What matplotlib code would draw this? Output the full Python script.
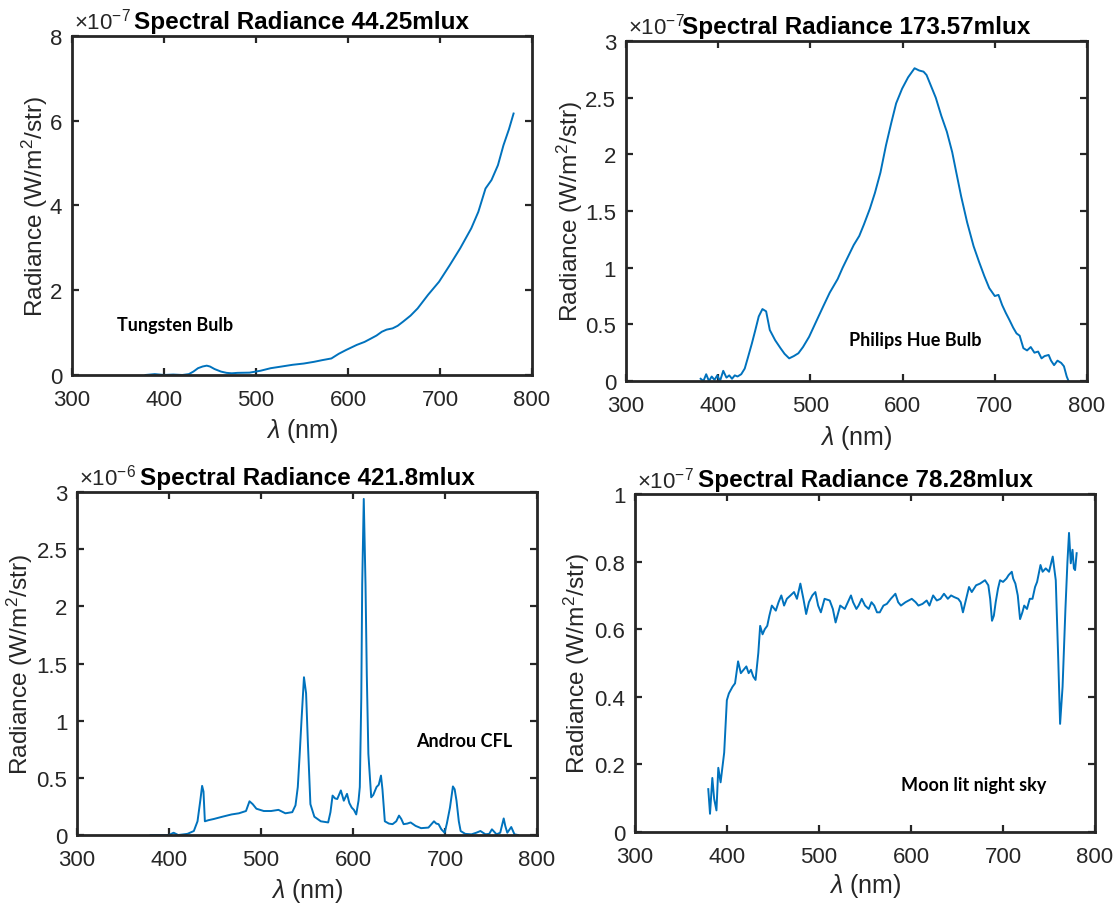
import matplotlib
matplotlib.use("Agg")
import matplotlib.pyplot as plt
from matplotlib.ticker import MultipleLocator

plt.rcParams['font.family'] = ['Liberation Sans', 'DejaVu Sans']
plt.rcParams['mathtext.fontset'] = 'custom'
plt.rcParams['mathtext.rm'] = 'Liberation Sans'
plt.rcParams['mathtext.it'] = 'Liberation Sans:italic'

# ---------------- data (values in units of the axis multiplier) ----------------
tungsten_nm = [380, 390, 400, 410, 420, 427, 432, 437, 442, 446.5, 450, 455, 462, 468, 473.7,
               480, 493, 505, 516, 528, 539.7, 552, 563, 572, 582, 590, 598, 609.6, 618,
               625, 631, 636.8, 642, 648.5, 654, 660, 668, 675.7, 687, 699, 710.6, 722,
               734, 741.7, 749.5, 756, 763, 769, 775, 780]
tungsten_val = [0.0, 0.02, 0.0, 0.01, 0.0, 0.02, 0.08, 0.16, 0.2, 0.22, 0.2, 0.14, 0.08, 0.05, 0.04,
                0.05, 0.055, 0.1, 0.16, 0.2, 0.24, 0.27, 0.31, 0.35, 0.39, 0.5, 0.59, 0.71, 0.78,
                0.86, 0.93, 1.02, 1.07, 1.10, 1.16, 1.26, 1.4, 1.57, 1.89, 2.2, 2.59, 2.99,
                3.46, 3.85, 4.4, 4.6, 4.95, 5.42, 5.8, 6.17]

hue_nm = [381, 384, 387, 390, 393, 396, 399, 402, 405.5, 409, 412, 415, 418, 421, 425, 428.8,
          432, 436.5, 440, 444, 448, 452, 456, 461.8, 467.6, 472, 477, 482, 487, 492, 498.6,
          506, 514, 521, 529.6, 535, 541, 547, 553, 558, 564.5, 570, 576, 582, 587.8, 593,
          599.5, 606, 613, 618, 622.7, 626, 630.5, 636, 642, 648, 653.8, 658, 663.5, 670, 677,
          683, 688.7, 694, 700, 704, 708, 712, 715.8, 720, 723.6, 727, 731, 735, 739, 743,
          747, 750.7, 754, 758.4, 761, 764.3, 768, 772, 775, 778, 780]
hue_val = [0.02, 0.0, 0.06, 0.0, 0.04, 0.01, 0.05, 0.0, 0.09, 0.03, 0.05, 0.02, 0.05, 0.04, 0.06, 0.11,
           0.2, 0.33, 0.44, 0.57, 0.635, 0.615, 0.45, 0.36, 0.29, 0.24, 0.2, 0.22, 0.245, 0.3, 0.39,
           0.52, 0.66, 0.78, 0.9, 1.0, 1.1, 1.2, 1.28, 1.38, 1.52, 1.66, 1.84, 2.08, 2.28, 2.45,
           2.58, 2.68, 2.76, 2.74, 2.73, 2.7, 2.61, 2.5, 2.34, 2.2, 2.02, 1.85, 1.63, 1.4, 1.19,
           1.05, 0.925, 0.82, 0.75, 0.76, 0.67, 0.6, 0.54, 0.47, 0.42, 0.4, 0.29, 0.27, 0.3, 0.25,
           0.26, 0.2, 0.22, 0.23, 0.18, 0.14, 0.18, 0.16, 0.13, 0.04, 0.0]

cfl_nm = [380, 390, 400, 405, 410, 420, 427, 431, 434, 436, 437.5, 439, 443, 448.6, 458, 468,
          476, 483.7, 487.5, 491, 495, 503, 511, 519, 526.5, 534, 537.5, 540, 542, 544, 546.7,
          549, 551, 553.7, 558, 565, 573, 575.5, 577.8, 580.5, 582.9, 586.8, 590, 593.5, 596,
          598.6, 601, 603.5, 606, 607.4, 609, 610, 611.7, 613.6, 615, 616.7, 619.8, 622, 625.6,
          628, 630.4, 632, 634.6, 639, 643, 647, 650, 652.5, 655, 659, 662.6, 668, 674, 682,
          688, 690.5, 693, 696, 699.6, 702, 705.4, 708.6, 710.5, 712.5, 715, 717, 722, 728.8,
          734, 738.5, 744, 748, 751, 756, 760, 763.8, 765.5, 767.7, 772, 775.5, 779.4]
cfl_val = [0.0, 0.0, 0.0, 0.02, 0.0, 0.01, 0.035, 0.12, 0.3, 0.43, 0.38, 0.12, 0.13, 0.14, 0.16, 0.18,
           0.19, 0.21, 0.295, 0.27, 0.23, 0.21, 0.21, 0.22, 0.19, 0.2, 0.26, 0.42, 0.7, 1.0, 1.38,
           1.24, 0.8, 0.27, 0.16, 0.12, 0.11, 0.2, 0.345, 0.32, 0.315, 0.39, 0.3, 0.36, 0.28,
           0.24, 0.22, 0.18, 0.3, 0.42, 1.2, 2.19, 2.94, 2.19, 1.4, 0.71, 0.33, 0.35, 0.42,
           0.44, 0.52, 0.4, 0.12, 0.1, 0.095, 0.12, 0.17, 0.14, 0.095, 0.1, 0.11, 0.08, 0.06, 0.065,
           0.12, 0.1, 0.095, 0.05, 0.02, 0.1, 0.24, 0.425, 0.4, 0.3, 0.12, 0.035, 0.01, 0.006,
           0.02, 0.035, 0.006, 0.01, 0.05, 0.006, 0.02, 0.145, 0.08, 0.02, 0.07, 0.006, 0.0]

moon_nm = [379.6, 381.5, 384, 386, 388.5, 390.5, 393, 396.9, 399.8, 402, 406, 408.7, 412, 415,
           418, 421, 423.5, 426, 428.5, 431, 434, 436, 438.6, 441, 443.7, 446, 448.7, 453, 456,
           459, 462, 465, 469, 472.8, 476, 479.7, 483, 486, 489, 492.7, 496, 499, 502, 506,
           511.6, 515, 518, 523, 528, 534.7, 537, 540.6, 543, 546.4, 550, 554, 557, 560, 563,
           566, 570, 573.7, 578, 583, 586, 589, 594, 600.8, 605, 608, 612.5, 617, 620, 624, 628,
           632, 635.8, 640, 643.5, 647, 651.3, 654, 656.4, 659, 663, 666, 670.7, 675, 680.4,
           684, 686, 688, 690, 692, 694.5, 696.7, 700, 703.7, 706, 709.5, 711, 713.4, 716,
           718.5, 721, 723, 726, 729, 732, 734.8, 737, 740.7, 743, 746.4, 750, 754, 757.3, 760,
           762, 764.7, 767.8, 770, 771.7, 773.6, 775.5, 777, 778.3, 780]
moon_val = [0.127, 0.054, 0.16, 0.098, 0.064, 0.19, 0.147, 0.235, 0.39, 0.41, 0.43, 0.44, 0.505, 0.47,
            0.48, 0.49, 0.47, 0.48, 0.46, 0.45, 0.53, 0.61, 0.585, 0.6, 0.61, 0.64, 0.67, 0.655, 0.68,
            0.70, 0.67, 0.69, 0.70, 0.71, 0.69, 0.735, 0.69, 0.645, 0.68, 0.70, 0.71, 0.67, 0.65, 0.69,
            0.685, 0.66, 0.62, 0.67, 0.66, 0.70, 0.68, 0.66, 0.67, 0.69, 0.67, 0.66, 0.68, 0.67, 0.65,
            0.65, 0.67, 0.675, 0.69, 0.705, 0.68, 0.67, 0.68, 0.69, 0.68, 0.67, 0.675, 0.685, 0.67,
            0.70, 0.685, 0.69, 0.705, 0.69, 0.70, 0.695, 0.69, 0.68, 0.65, 0.68, 0.725, 0.71, 0.73,
            0.735, 0.745, 0.73, 0.69, 0.625, 0.64, 0.68, 0.72, 0.745, 0.74, 0.75, 0.76, 0.77, 0.75,
            0.735, 0.70, 0.63, 0.65, 0.67, 0.66, 0.69, 0.69, 0.725, 0.74, 0.79, 0.77, 0.78, 0.77,
            0.815, 0.745, 0.51, 0.32, 0.43, 0.66, 0.80, 0.885, 0.795, 0.835, 0.78, 0.775, 0.825]

titles = ["Spectral Radiance 44.25mlux", "Spectral Radiance 173.57mlux",
          "Spectral Radiance 421.8mlux", "Spectral Radiance 78.28mlux"]
labels = ["Tungsten Bulb", "Philips Hue Bulb", "Androu CFL", "Moon lit night sky"]
exponents = [-7, -7, -6, -7]
ylims = [8, 3, 3, 1]
ysteps = [2, 0.5, 0.5, 0.2]
x_ticks = [300, 400, 500, 600, 700, 800]

series = [(tungsten_nm, tungsten_val), (hue_nm, hue_val), (cfl_nm, cfl_val), (moon_nm, moon_val)]
label_pos = [(349, 1.18), (542, 0.37), (669, 0.83), (589, 0.142)]

axes_rects = [
    [0.0643, 0.5841, 0.4111, 0.3750],
    [0.5594, 0.5774, 0.4120, 0.3761],
    [0.0688, 0.0752, 0.4111, 0.3794],
    [0.5675, 0.0785, 0.4111, 0.3739],
]
ylabel_x = [-0.080, -0.1226, -0.124, -0.126]
xlabel_y = [-0.162, -0.164, -0.160, -0.157]

fig = plt.figure(figsize=(11.19, 9.04), dpi=100)
ink = '#262626'
blue = '#0072BD'

for i in range(4):
    ax = fig.add_axes(axes_rects[i])
    x, y = series[i]
    ax.plot(x, y, color=blue, lw=1.4)
    ax.set_xlim(300, 800)
    ax.set_ylim(0, ylims[i])
    ax.set_xticks(x_ticks)
    ax.yaxis.set_major_locator(MultipleLocator(ysteps[i]))
    ax.yaxis.set_major_formatter(plt.FuncFormatter(lambda v, p: ('%g' % round(v, 6))))
    ax.tick_params(direction='in', length=5, width=1.6, colors=ink, labelsize=16,
                   top=True, right=True)
    ax.tick_params(axis='x', pad=10)
    ax.tick_params(axis='y', pad=7)
    for s in ax.spines.values():
        s.set_linewidth(2.0)
        s.set_color(ink)
    ax.set_xlabel(r'$\lambda$ (nm)', fontsize=18, color=ink)
    ax.set_ylabel(r'Radiance (W/m$^2$/str)', fontsize=17.6, color=ink)
    ax.yaxis.set_label_coords(ylabel_x[i], 0.5)
    ax.xaxis.set_label_coords(0.5, xlabel_y[i])
    ax.xaxis.label.set_va('center')
    ax.yaxis.label.set_va('center')
    ax.set_title(titles[i], fontsize=17.5, fontweight='bold', pad=6, color='black')
    ax.text(0.005, 1.006, r'$\times$10$^{%d}$' % exponents[i], transform=ax.transAxes,
            fontsize=16, color=ink, ha='left', va='bottom')
    lx, ly = label_pos[i]
    ax.text(lx, ly, labels[i], fontsize=13, fontweight='bold', family=['Lato', 'DejaVu Sans'],
            ha='left', va='center', color='black')

fig.savefig('out.png', dpi=100)
